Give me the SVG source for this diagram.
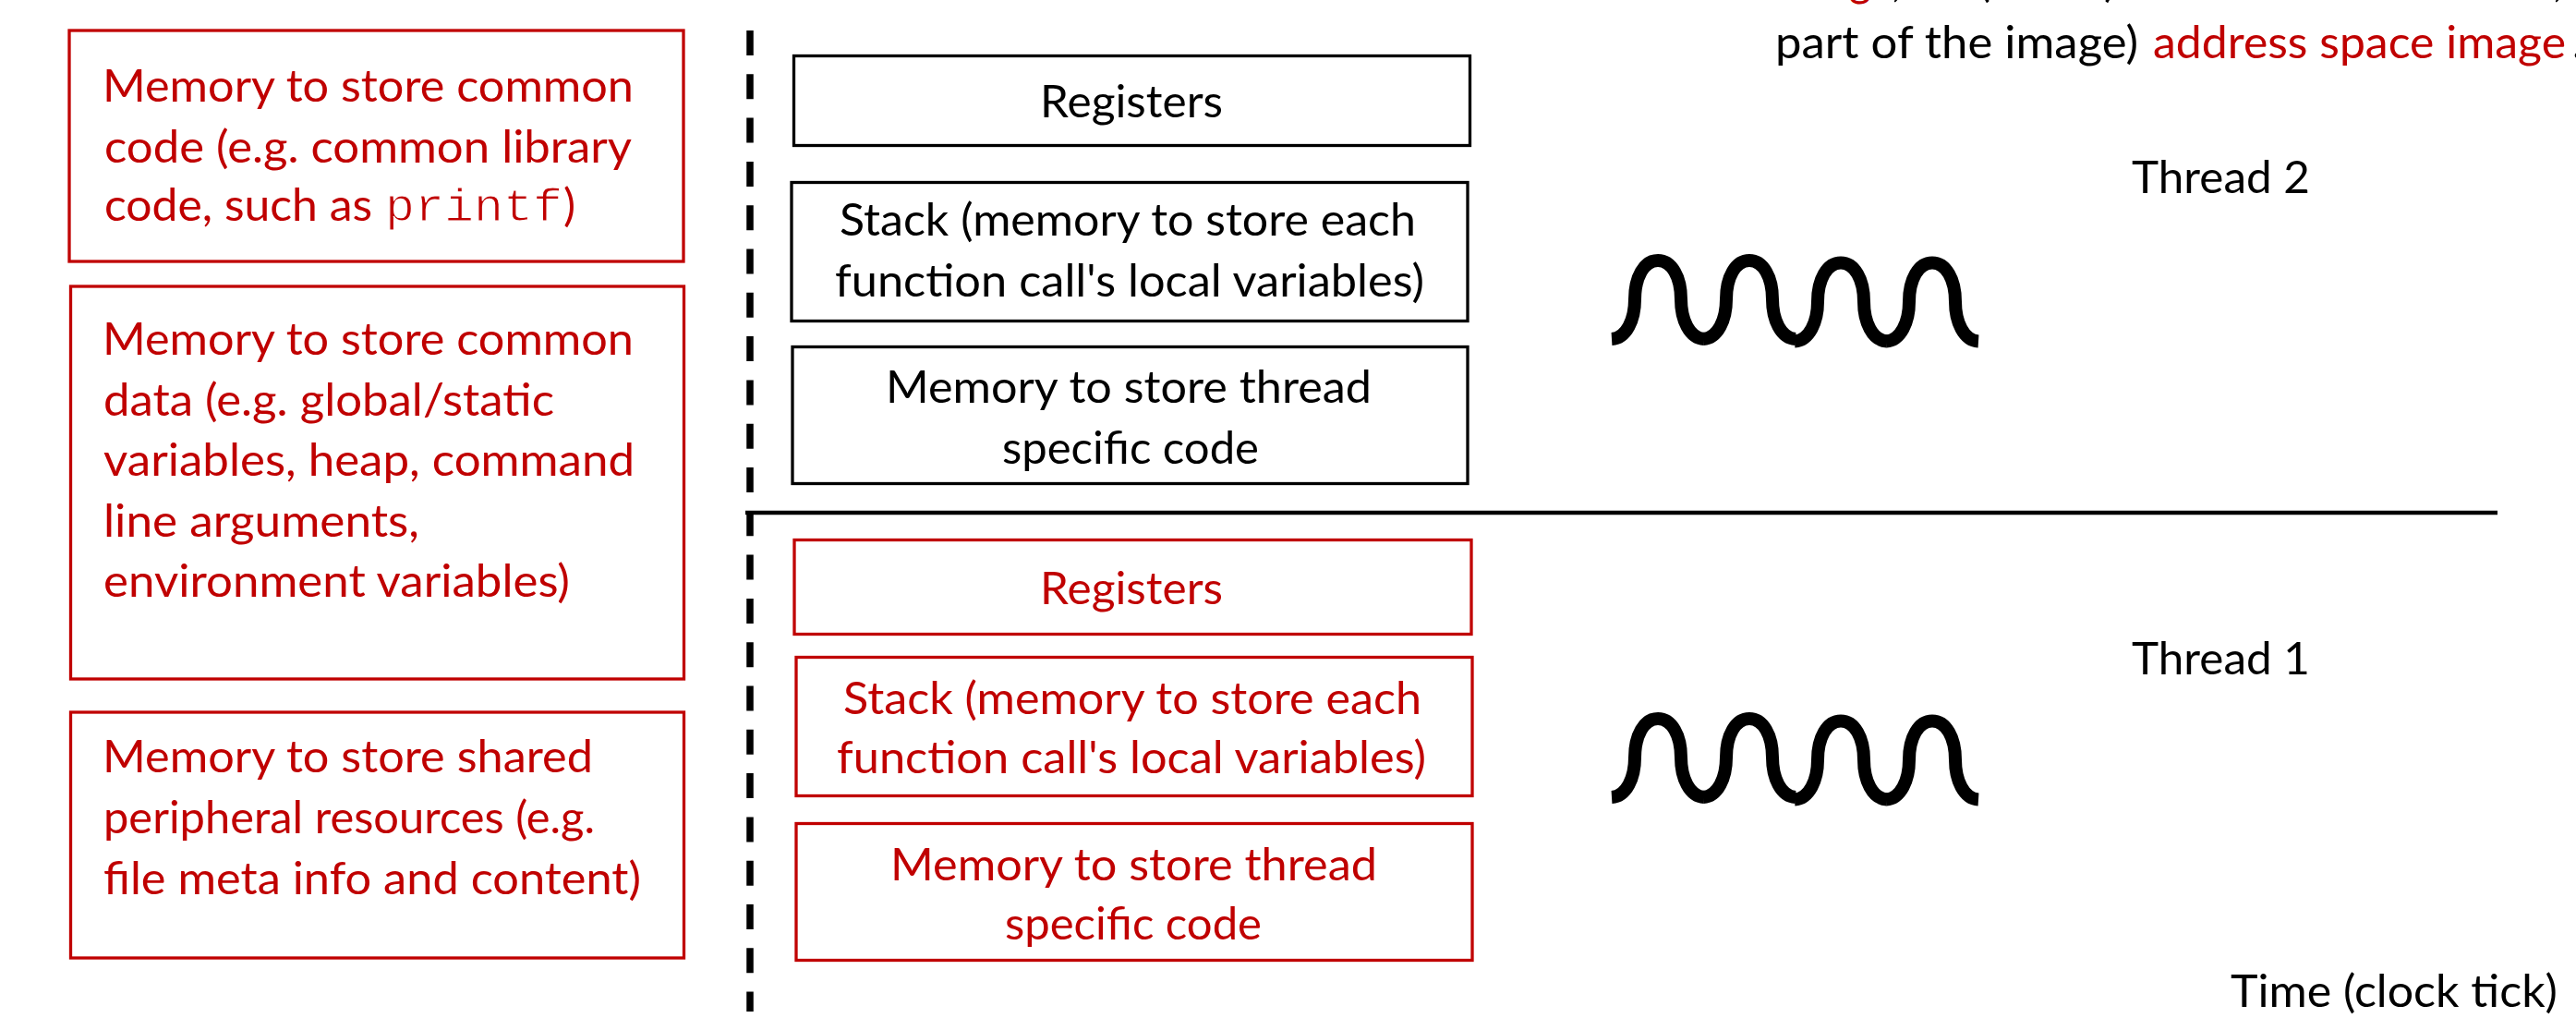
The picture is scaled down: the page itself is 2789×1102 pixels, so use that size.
<svg xmlns="http://www.w3.org/2000/svg" width="2789" height="1102" viewBox="0 0 2789 1102">
<style>
text{font-family:Lato,"Liberation Sans",sans-serif;font-size:49px;fill:#000}
.r{fill:#c00000}
text.m{font-family:"Liberation Mono",monospace;font-size:50px;fill:#c00000;stroke:#fff;stroke-width:1.100}
.kb,.rb{fill:#fff;stroke-width:3.300}
.kb{stroke:#000}.rb{stroke:#c00000}
.w{fill:none;stroke:#000;stroke-width:14}
</style>
<defs>
<path id="arch" class="w" d="M0 85C16 84 25 64 25 42C25 18 35 0 50 0C65 0 75 18 75 42C75 64 84 84 100 85"/>
<g id="wave">
<use href="#arch"/><use href="#arch" x="99"/><use href="#arch" x="198" y="2.500"/><use href="#arch" x="297" y="2.500"/>
</g>
</defs>
<rect width="2789" height="1102" fill="#fff"/>
<g id="connectors">
<path d="M812 33V1095" fill="none" stroke="#000" stroke-width="7.500" stroke-dasharray="27 20.300"/>
<path d="M807 555H2704" fill="none" stroke="#000" stroke-width="4.500"/>
</g>
<g id="top-note">
<text y="-4" x="2002" class="r" textLength="24" lengthAdjust="spacingAndGlyphs">g</text>
<text y="-4" x="2048 2142 2278 2764">,(),</text>
<text x="1922" y="63" textLength="393" lengthAdjust="spacingAndGlyphs">part of the image)</text>
<text x="2331" y="63" class="r" textLength="447" lengthAdjust="spacingAndGlyphs">address space image</text>
<text x="2785" y="63">.</text>
</g>
<g id="common-code">
<rect class="rb" x="75" y="33" width="665" height="250"/>
<text class="r" x="111" y="110" textLength="575" lengthAdjust="spacingAndGlyphs">Memory to store common</text>
<text class="r" x="113" y="176" textLength="571" lengthAdjust="spacingAndGlyphs">code (e.g. common library</text>
<text class="r" x="113" y="239" textLength="290" lengthAdjust="spacingAndGlyphs">code, such as</text>
<text class="m" x="417" y="239" textLength="192" lengthAdjust="spacingAndGlyphs">printf</text>
<text class="r" x="610" y="239">)</text>
</g>
<g id="common-data">
<rect class="rb" x="76.500" y="310" width="664" height="425"/>
<text class="r" x="111" y="384" textLength="575" lengthAdjust="spacingAndGlyphs">Memory to store common</text>
<text class="r" x="112" y="450" textLength="488" lengthAdjust="spacingAndGlyphs">data (e.g. global/static</text>
<text class="r" x="112" y="515" textLength="575" lengthAdjust="spacingAndGlyphs">variables, heap, command</text>
<text class="r" x="112" y="581" textLength="342" lengthAdjust="spacingAndGlyphs">line arguments,</text>
<text class="r" x="112" y="646" textLength="505" lengthAdjust="spacingAndGlyphs">environment variables)</text>
</g>
<g id="shared-resources">
<rect class="rb" x="76.500" y="771" width="664" height="266"/>
<text class="r" x="111" y="836" textLength="531" lengthAdjust="spacingAndGlyphs">Memory to store shared</text>
<text class="r" x="112" y="902" textLength="532" lengthAdjust="spacingAndGlyphs">peripheral resources (e.g.</text>
<text class="r" x="112" y="968" textLength="582" lengthAdjust="spacingAndGlyphs">file meta info and content)</text>
</g>
<g id="t2-registers">
<rect class="kb" x="859.500" y="60.500" width="732" height="97"/>
<text x="1126" y="127" textLength="198" lengthAdjust="spacingAndGlyphs">Registers</text>
</g>
<g id="t2-stack">
<rect class="kb" x="857" y="197.500" width="732" height="150"/>
<text x="909" y="255" textLength="624" lengthAdjust="spacingAndGlyphs">Stack (memory to store each</text>
<text x="904" y="321" textLength="638" lengthAdjust="spacingAndGlyphs">function call's local variables)</text>
</g>
<g id="t2-code">
<rect class="kb" x="858" y="375.500" width="731" height="148"/>
<text x="959" y="436" textLength="526" lengthAdjust="spacingAndGlyphs">Memory to store thread</text>
<text x="1085" y="502" textLength="278" lengthAdjust="spacingAndGlyphs">specific code</text>
</g>
<g id="t1-registers">
<rect class="rb" x="860" y="584.500" width="733" height="102"/>
<text class="r" x="1126" y="654" textLength="198" lengthAdjust="spacingAndGlyphs">Registers</text>
</g>
<g id="t1-stack">
<rect class="rb" x="862" y="711.500" width="732" height="150"/>
<text class="r" x="913" y="773" textLength="626" lengthAdjust="spacingAndGlyphs">Stack (memory to store each</text>
<text class="r" x="906" y="837" textLength="638" lengthAdjust="spacingAndGlyphs">function call's local variables)</text>
</g>
<g id="t1-code">
<rect class="rb" x="862" y="891.500" width="732" height="148"/>
<text class="r" x="964" y="953" textLength="527" lengthAdjust="spacingAndGlyphs">Memory to store thread</text>
<text class="r" x="1088" y="1017" textLength="278" lengthAdjust="spacingAndGlyphs">specific code</text>
</g>
<g id="thread-2">
<text x="2308" y="209" textLength="193" lengthAdjust="spacingAndGlyphs">Thread 2</text>
<use href="#wave" x="1745" y="282"/>
</g>
<g id="thread-1">
<text x="2308" y="730" textLength="193" lengthAdjust="spacingAndGlyphs">Thread 1</text>
<use href="#wave" x="1745" y="778"/>
</g>
<g id="time-label">
<text x="2415" y="1090" textLength="354" lengthAdjust="spacingAndGlyphs">Time (clock tick)</text>
</g>
</svg>
